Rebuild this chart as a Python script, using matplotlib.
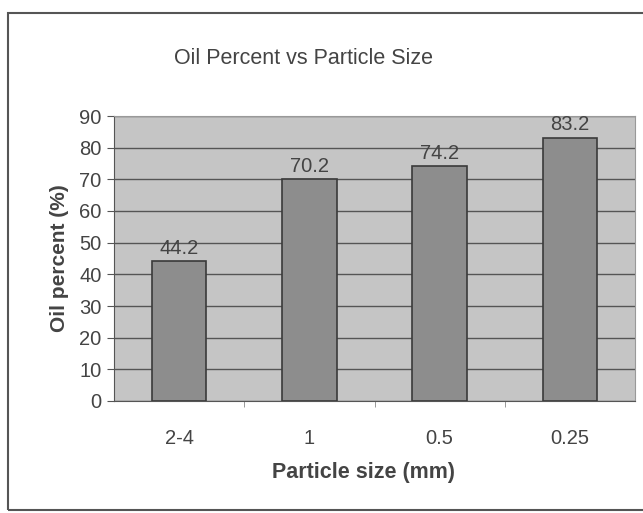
import matplotlib
matplotlib.use("Agg")
import matplotlib.pyplot as plt
from matplotlib.patches import Rectangle

categories = ["2-4", "1", "0.5", "0.25"]
oil_percent = [44.2, 70.2, 74.2, 83.2]

plt.rcParams["font.family"] = ["Liberation Sans", "DejaVu Sans"]

fig = plt.figure(figsize=(6.43, 5.13), dpi=100)
fig.patch.set_facecolor("white")
# outer chart frame
fig.add_artist(Rectangle((8 / 643, 3 / 513), 640 / 643, 497 / 513,
                         transform=fig.transFigure, fill=False,
                         edgecolor="#555555", linewidth=1.5))

ax = fig.add_axes([114 / 643, 112 / 513, 521 / 643, 285 / 513])
ax.set_facecolor("#c5c5c5")

x = range(len(categories))
ax.bar(x, oil_percent, width=0.42, color="#8d8d8d", edgecolor="#3a3a3a",
       linewidth=1.2, zorder=3)
for i, v in enumerate(oil_percent):
    ax.text(i, v + 1.0, f"{v:.1f}", ha="center", va="bottom",
            fontsize=14.5, color="#444444", zorder=4)

ax.set_xlim(-0.5, len(categories) - 0.5)
ax.set_ylim(0, 90)
ax.set_yticks(range(0, 91, 10))
ax.yaxis.grid(True, color="#555555", linewidth=1.0, zorder=0)
ax.set_axisbelow(True)

ax.set_xticks(x)
ax.set_xticklabels(categories)
ax.tick_params(axis="x", length=0, pad=20, labelsize=14.5, labelcolor="#444444")
ax.tick_params(axis="y", length=5, labelsize=14.5, labelcolor="#444444",
               color="#555555", pad=4)
# minor ticks between categories
ax.set_xticks([0.5, 1.5, 2.5], minor=True)
ax.tick_params(axis="x", which="minor", length=4, color="#888888")

for side in ["top", "right"]:
    ax.spines[side].set_color("#999999")
ax.spines["left"].set_color("#555555")
ax.spines["bottom"].set_color("#555555")

ax.set_ylabel("Oil percent (%)", fontsize=15, fontweight="bold",
              color="#444444", labelpad=7)
ax.set_xlabel("Particle size (mm)", fontsize=15.5, fontweight="bold",
              color="#444444", labelpad=10)
ax.xaxis.label.set_x(0.478)
fig.text(304 / 643, 1 - 58 / 513, "Oil Percent vs Particle Size", ha="center",
         va="center", fontsize=15.5, color="#444444")

fig.savefig("out.png", dpi=100)
